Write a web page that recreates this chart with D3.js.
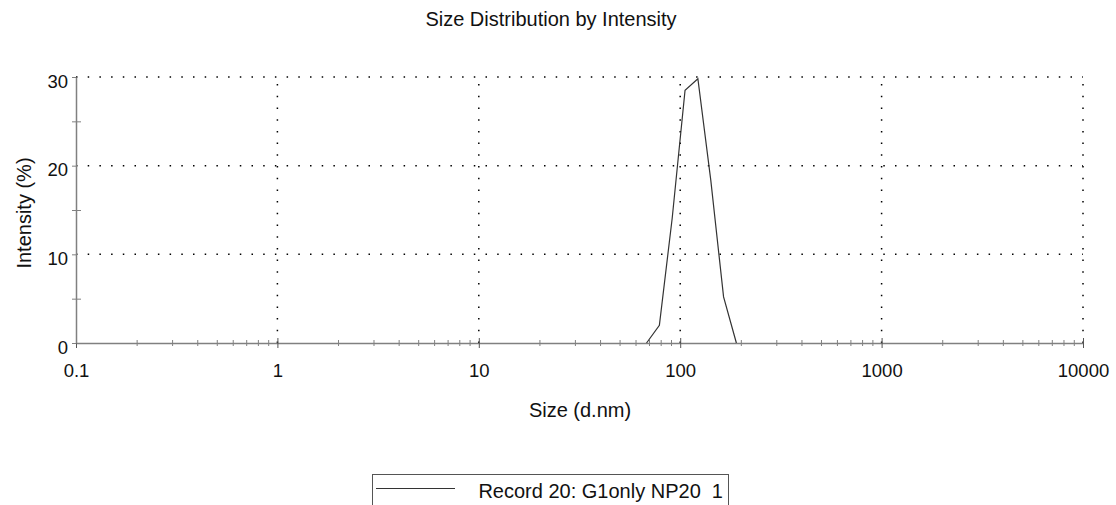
<!DOCTYPE html>
<html>
<head>
<meta charset="utf-8">
<script src="https://cdn.jsdelivr.net/npm/d3@7"></script>
<style>
  html, body { margin: 0; padding: 0; background: #fff; }
  svg { display: block; font-family: "Liberation Sans", Arial, sans-serif; }
</style>
</head>
<body>
<svg id="chart" width="1116" height="505"></svg>
<script>
// ---- data ----
const sizes = [68.06, 78.82, 91.28, 105.7, 122.4, 141.8, 164.2, 190.1];
const intensity = [0, 2.0, 14.1, 28.5, 29.8, 18.4, 5.2, 0];
const xMajorTicks = [0.1, 1, 10, 100, 1000, 10000];
const xTickLabels = ["0.1", "1", "10", "100", "1000", "10000"];
const yMajorTicks = [0, 10, 20, 30];
const yMinorTicks = [5, 15, 25];
const chartTitle = "Size Distribution by Intensity";
const xTitle = "Size (d.nm)";
const yTitle = "Intensity (%)";
const legendLabel = "Record 20: G1only NP20  1";

// ---- layout ----
const svg = d3.select("#chart");
const plotL = 76, plotR = 1083, plotT = 77, plotB = 343;
const x = d3.scaleLog().domain([0.1, 10000]).range([plotL, plotR]);
const y = d3.scaleLinear().domain([0, 30]).range([plotB, plotT]);
const tickFont = 18.5;
const labelFont = 20;
const axisColor = "#808080";

// minor x ticks 2..9 per decade
const xMinorTicks = [];
for (let i = 0; i < xMajorTicks.length - 1; i++) {
  for (let k = 2; k <= 9; k++) xMinorTicks.push(xMajorTicks[i] * k);
}

// ---- gridlines (dotted) ----
const grid = svg.append("g").attr("stroke", "#000").attr("stroke-width", 1.5)
  .attr("stroke-dasharray", "1.5 10.2");
grid.selectAll("line.h").data(yMajorTicks.filter(d => d > 0)).join("line")
  .attr("class", "h")
  .attr("x1", plotL).attr("x2", plotR)
  .attr("y1", d => y(d)).attr("y2", d => y(d));
grid.selectAll("line.v").data(xMajorTicks.filter(d => d > 0.1)).join("line")
  .attr("class", "v")
  .attr("x1", d => x(d)).attr("x2", d => x(d))
  .attr("y1", plotB).attr("y2", plotT);

// ---- x axis ----
const xAxisMinor = svg.append("g").attr("transform", `translate(0,${plotB})`)
  .call(d3.axisBottom(x).tickValues(xMinorTicks).tickSize(3).tickSizeOuter(0).tickFormat(""));
xAxisMinor.selectAll(".tick line").attr("y1", -3).attr("stroke", axisColor);
xAxisMinor.select(".domain").attr("stroke", axisColor).attr("stroke-width", 1.5);

const xAxisMajor = svg.append("g").attr("transform", `translate(0,${plotB})`)
  .call(d3.axisBottom(x).tickValues(xMajorTicks).tickSize(5).tickSizeOuter(0)
    .tickFormat((d, i) => xTickLabels[i]));
xAxisMajor.select(".domain").remove();
xAxisMajor.selectAll(".tick line").attr("y1", -5).attr("stroke", "#555");
xAxisMajor.selectAll(".tick text")
  .attr("font-size", tickFont).attr("fill", "#111")
  .attr("font-family", "Liberation Sans, Arial, sans-serif")
  .attr("dy", 0).attr("y", 377 - plotB);

// ---- y axis ----
const yAxisMinor = svg.append("g").attr("transform", `translate(${plotL},0)`)
  .call(d3.axisLeft(y).tickValues(yMinorTicks).tickSize(4).tickSizeOuter(0).tickFormat(""));
yAxisMinor.selectAll(".tick line").attr("x1", 5).attr("stroke", axisColor);
yAxisMinor.select(".domain").attr("stroke", axisColor).attr("stroke-width", 1.5);

const yAxisMajor = svg.append("g").attr("transform", `translate(${plotL},0)`)
  .call(d3.axisLeft(y).tickValues(yMajorTicks).tickSize(4).tickSizeOuter(0));
yAxisMajor.select(".domain").remove();
yAxisMajor.selectAll(".tick line").attr("stroke", axisColor);
yAxisMajor.selectAll(".tick text")
  .attr("font-size", tickFont).attr("fill", "#111")
  .attr("font-family", "Liberation Sans, Arial, sans-serif")
  .attr("x", 68 - plotL).attr("dy", 0).attr("y", 10);

// ---- data line ----
const line = d3.line().x((d, i) => x(sizes[i])).y(d => y(d));
svg.append("path").datum(intensity)
  .attr("d", line).attr("fill", "none")
  .attr("stroke", "#333").attr("stroke-width", 1.2);

// ---- titles ----
svg.append("text").attr("x", 551).attr("y", 25.5).attr("text-anchor", "middle")
  .attr("font-size", labelFont).attr("fill", "#111").text(chartTitle);
svg.append("text").attr("x", 580).attr("y", 416.5).attr("text-anchor", "middle")
  .attr("font-size", labelFont).attr("fill", "#111").text(xTitle);
svg.append("text").attr("transform", "translate(31,213) rotate(-90)")
  .attr("text-anchor", "middle").attr("font-size", labelFont).attr("fill", "#111").text(yTitle);

// ---- legend ----
const lg = svg.append("g");
lg.append("rect").attr("x", 372.5).attr("y", 474.5).attr("width", 356).attr("height", 60)
  .attr("fill", "none").attr("stroke", "#555").attr("stroke-width", 1);
lg.append("line").attr("x1", 376).attr("x2", 455).attr("y1", 488.5).attr("y2", 488.5)
  .attr("stroke", "#333").attr("stroke-width", 1.2);
lg.append("text").attr("x", 723).attr("y", 498).attr("text-anchor", "end")
  .attr("font-size", labelFont).attr("fill", "#111").style("white-space", "pre")
  .text(legendLabel);
</script>
</body>
</html>
